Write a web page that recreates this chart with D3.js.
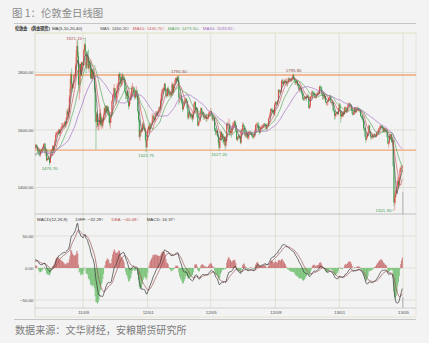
<!DOCTYPE html>
<html lang="zh-CN">
<head>
<meta charset="UTF-8">
<title>伦敦金日线图</title>
<style>
  body { margin: 0; background: #f3f3f3; }
  svg#kline { display: block; }
  .tiny { font-family: "Liberation Sans", "DejaVu Sans", sans-serif; font-size: 4.4px; }
  .cap { font-family: "Noto Sans CJK SC", sans-serif; }
</style>
</head>
<body>
<svg id="kline"></svg>
<script src="https://cdnjs.cloudflare.com/ajax/libs/d3/7.8.5/d3.min.js"></script>
<script>
// trading days per month, Apr 2011 .. Apr 2013
var monthDays = [21,21,22,21,23,22,21,22,20,21,21,22,19,21,20,22,22,20,23,22,19,22,20,20,22];
// grid lines / date labels sit on the first day of these months (0 = Apr 2011)
var tickMonths = [5, 9, 13, 17, 21, 25];
var tickLabels = ["11/09", "12/01", "12/05", "12/09", "13/01", "13/05"];
var priceTicks = [1400, 1600, 1800];
var macdTicks = [-50, 0, 50];
var srLevels = [1791, 1530];          // resistance / support lines
var markHighs = [1921.15, 1790.30, 1795.80];
var markLows = [1476.70, 1522.75, 1527.20, 1321.35];
var maPeriods = [5, 10, 20, 40];

// daily close (spot gold, open = previous close)
var closeP = [
  1431,1437,1449,1457,1474,1466,1454,1460,1474,1486,1492,1497,1504,1501,1505,1508,1506,1517,1535,1557,1556,
  1546,1543,1516,1474,1492,1503,1516,1501,1500,1491,1494,1481,1492,1496,1509,1526,1525,1521,1535,1536,1537,
  1541,1533,1542,1544,1548,1541,1528,1530,1516,1513,1526,1529,1531,1541,1550,1552,1520,1522,1495,1500,1504,1500,
  1486,1513,1530,1528,1543,1531,1547,1562,1583,1588,1590,1594,1601,1588,1599,1608,1613,1616,1617,1615,1628,
  1622,1642,1665,1653,1662,1713,1743,1793,1760,1745,1762,1790,1792,1823,1852,1892,1857,1757,1758,1829,1790,1835,1826,
  1828,1877,1897,1873,1816,1860,1856,1815,1837,1825,1780,1812,1778,1803,1784,1741,1660,1628,1654,1616,1617,1622,
  1658,1620,1642,1615,1630,1652,1675,1662,1683,1666,1680,1656,1654,1624,1642,1651,1700,1722,1727,1745,1715,
  1712,1736,1754,1754,1794,1784,1761,1760,1788,1778,1783,1776,1735,1726,1719,1734,1699,1683,1702,1719,1717,1746,
  1746,1747,1722,1713,1731,1736,1714,1665,1635,1576,1599,1594,1598,1620,1619,1606,1597,1566,1540,1565,
  1600,1612,1603,1618,1617,1620,1633,1647,1640,1636,1654,1660,1652,1661,1667,1678,1676,1702,1726,1739,1740,
  1745,1760,1740,1722,1718,1745,1741,1722,1725,1727,1720,1758,1730,1755,1758,1772,1780,1772,1785,1769,1712,
  1712,1712,1710,1693,1672,1682,1700,1698,1708,1702,1676,1643,1660,1656,1650,1646,1651,1640,1661,1690,1697,1669,
  1677,1647,1615,1628,1630,1659,1676,1661,1661,1650,1641,1643,1648,1638,1642,1642,1656,1660,1663,
  1665,1655,1637,1642,1640,1603,1594,1591,1597,1578,1557,1538,1569,1593,1576,1586,1568,1559,1576,1546,1562,
  1622,1615,1617,1619,1589,1597,1590,1610,1617,1621,1630,1618,1598,1567,1574,1573,1580,1576,1556,1598,
  1598,1618,1614,1608,1581,1581,1590,1572,1575,1592,1592,1590,1591,1580,1578,1575,1580,1597,1617,1619,1620,1615,
  1599,1591,1606,1609,1611,1611,1616,1621,1619,1618,1604,1616,1615,1640,1645,1656,1673,1669,1663,1669,1655,1688,
  1697,1694,1691,1702,1739,1734,1733,1736,1770,1772,1760,1767,1770,1771,1761,1767,1765,1778,1773,1776,
  1775,1777,1780,1790,1781,1776,1763,1764,1769,1755,1758,1739,1745,1746,1731,1725,1708,1707,1712,1711,1716,1712,1719,
  1716,1677,1684,1715,1715,1733,1730,1727,1725,1712,1714,1722,1728,1726,1730,1750,1749,1740,1726,1718,1724,1712,
  1718,1697,1694,1698,1701,1711,1714,1717,1695,1696,1697,1669,1667,1649,1657,1659,1662,1656,1675,
  1688,1665,1648,1656,1647,1662,1656,1677,1678,1662,1669,1681,1688,1692,1685,1686,1670,1658,1653,1660,1678,1663,
  1667,1673,1677,1672,1672,1667,1649,1648,1643,1635,1607,1605,1577,1566,1573,1587,1593,1615,1595,1578,
  1573,1581,1576,1578,1583,1579,1577,1590,1594,1592,1605,1606,1615,1613,1610,1606,1594,1604,1595,1598,
  1597,1575,1553,1558,1580,1573,1585,1558,1563,1477,1348,1368,1377,1392,1405,1423,1409,1432,1462,1468,1467,1472
];
var highP = [
  1434,1442,1452,1462,1475,1476,1467,1463,1476,1489,1494,1501,1507,1508,1507,1512,1512,1520,1537,1559,1569,
  1577,1556,1545,1520,1496,1509,1519,1518,1508,1503,1498,1500,1496,1500,1512,1528,1529,1530,1537,1538,1542,
  1549,1545,1544,1550,1552,1550,1545,1533,1531,1521,1530,1535,1535,1543,1552,1556,1555,1529,1525,1504,1508,1512,
  1500,1515,1533,1532,1546,1546,1549,1565,1592,1594,1596,1597,1604,1603,1601,1610,1624,1623,1625,1623,1632,
  1632,1645,1674,1673,1682,1720,1778,1800,1814,1760,1765,1793,1797,1828,1877,1911,1913,1870,1786,1834,1830,1837,1836,
  1838,1882,1901,1921.15,1874,1866,1874,1880,1840,1845,1826,1815,1812,1808,1815,1790,1743,1663,1665,1660,1638,1633,
  1672,1662,1643,1645,1638,1660,1679,1686,1687,1684,1686,1684,1663,1657,1645,1658,1704,1724,1747,1760,1746,
  1729,1738,1763,1762,1796,1802,1798,1781,1797,1797,1793,1788,1780,1739,1733,1739,1736,1705,1705,1726,1720,1753,
  1764,1753,1750,1730,1741,1753,1741,1721,1668,1640,1604,1603,1608,1626,1629,1625,1610,1599,1574,1573,
  1606,1615,1625,1624,1625,1624,1658,1652,1656,1645,1657,1666,1665,1667,1670,1681,1683,1709,1730,1743,1747,
  1749,1764,1764,1744,1728,1748,1752,1742,1727,1731,1729,1765,1764,1760,1762,1777,1783,1781,1788,1787,1790.30,
  1727,1724,1722,1710,1696,1690,1705,1706,1714,1710,1703,1678,1665,1667,1661,1655,1660,1655,1664,1695,1700,1699,
  1679,1677,1649,1629,1634,1662,1679,1677,1670,1666,1652,1652,1653,1651,1646,1650,1661,1666,1665,
  1676,1667,1657,1649,1645,1643,1608,1606,1600,1598,1581,1561,1573,1598,1596,1591,1588,1575,1577,1580,1565,
  1626,1627,1623,1640,1623,1603,1601,1614,1628,1625,1633,1634,1626,1602,1578,1578,1586,1585,1580,1604,
  1605,1627,1624,1619,1612,1590,1595,1594,1580,1596,1597,1598,1595,1594,1584,1583,1586,1601,1621,1623,1628,1625,
  1626,1612,1610,1615,1617,1618,1620,1624,1625,1623,1622,1619,1624,1641,1652,1664,1675,1675,1677,1672,1670,1693,
  1699,1700,1697,1703,1742,1741,1738,1739,1773,1777,1776,1769,1775,1779,1773,1780,1768,1781,1785,1781,
  1780,1784,1783,1793,1795.80,1785,1779,1770,1773,1774,1761,1759,1750,1753,1750,1735,1728,1714,1718,1716,1718,1720,1723,
  1727,1721,1688,1718,1720,1737,1737,1733,1734,1729,1720,1728,1733,1734,1737,1754,1755,1754,1750,1731,1729,1726,
  1723,1720,1702,1700,1706,1714,1718,1722,1718,1698,1700,1697,1672,1668,1660,1662,1665,1664,1677,
  1694,1693,1668,1662,1660,1666,1668,1681,1682,1680,1674,1689,1695,1696,1694,1690,1690,1674,1664,1665,1680,1680,
  1679,1680,1682,1678,1676,1675,1668,1653,1650,1648,1638,1610,1606,1582,1582,1593,1597,1619,1617,1597,
  1581,1585,1583,1583,1587,1588,1581,1595,1597,1598,1608,1612,1617,1617,1615,1614,1611,1609,1607,1603,
  1606,1600,1578,1562,1585,1585,1587,1590,1566,1565,1482,1386,1392,1400,1424,1437,1427,1436,1469,1476,1477,1478
];
var lowP = [
  1420,1426,1434,1446,1457,1459,1450,1452,1458,1471,1482,1490,1493,1495,1498,1502,1500,1504,1515,1533,1540,
  1538,1530,1510,1462,1470,1488,1500,1498,1492,1488,1484,1476,1478,1488,1492,1505,1518,1517,1518,1525,1525,
  1530,1527,1528,1536,1538,1534,1524,1519,1510,1508,1507,1518,1522,1526,1536,1538,1516,1509,1490,1492,1496,1495,
  1476.70,1485,1510,1519,1526,1525,1528,1544,1560,1575,1581,1585,1586,1580,1585,1594,1602,1606,1605,1608,1610,
  1608,1620,1638,1645,1640,1660,1701,1733,1737,1731,1744,1754,1778,1788,1812,1847,1830,1744,1705,1728,1785,1786,1818,
  1806,1824,1862,1860,1796,1812,1832,1810,1800,1812,1777,1775,1766,1776,1777,1730,1626,1532.70,1605,1610,1598,1600,
  1617,1612,1604,1610,1605,1624,1646,1655,1658,1656,1660,1650,1626,1613,1604,1626,1650,1692,1707,1715,1700,
  1688,1693,1725,1740,1748,1774,1750,1752,1755,1768,1776,1767,1730,1708,1706,1708,1693,1671,1678,1690,1708,1713,
  1735,1732,1717,1705,1708,1716,1707,1660,1627,1571,1562,1579,1589,1592,1609,1601,1594,1561,1522.75,1538,
  1562,1594,1598,1596,1603,1606,1618,1625,1630,1626,1628,1649,1646,1648,1656,1659,1665,1671,1698,1715,1727,
  1727,1736,1733,1714,1711,1716,1731,1715,1718,1715,1712,1720,1722,1727,1745,1757,1765,1765,1769,1761,1688,
  1694,1702,1696,1688,1662,1668,1680,1692,1696,1697,1674,1635,1638,1647,1641,1637,1636,1627,1635,1660,1684,1657,
  1666,1643,1612,1613,1619,1627,1656,1654,1652,1645,1635,1637,1639,1627,1631,1637,1637,1652,1650,
  1660,1651,1632,1630,1632,1597,1582,1582,1581,1574,1548,1527.20,1535,1565,1561,1565,1555,1550,1545,1532,1540,
  1556,1604,1605,1613,1582,1583,1573,1584,1608,1612,1613,1610,1592,1563,1560,1564,1570,1568,1550,1552,
  1587,1595,1611,1603,1576,1573,1575,1570,1565,1568,1586,1584,1583,1576,1570,1570,1572,1576,1594,1606,1611,1611,
  1594,1584,1589,1598,1602,1604,1608,1613,1611,1610,1598,1599,1610,1612,1637,1643,1650,1662,1658,1656,1650,1650,
  1684,1686,1682,1688,1700,1726,1726,1728,1730,1759,1754,1755,1757,1764,1756,1752,1751,1760,1767,1767,
  1766,1768,1770,1774,1773,1771,1757,1756,1760,1753,1745,1737,1731,1737,1729,1720,1704,1701,1701,1703,1707,1700,1710,
  1712,1674,1672,1676,1709,1713,1723,1720,1719,1710,1709,1710,1719,1721,1722,1727,1744,1738,1718,1705,1707,1706,
  1704,1694,1687,1685,1684,1697,1705,1708,1692,1688,1685,1664,1660,1635,1640,1647,1654,1650,1653,
  1672,1661,1625,1640,1645,1645,1651,1654,1671,1658,1659,1664,1679,1684,1679,1680,1666,1654,1650,1652,1653,1657,
  1658,1661,1668,1666,1664,1660,1646,1640,1637,1628,1599,1595,1576,1555,1564,1572,1581,1592,1593,1575,
  1565,1571,1570,1570,1574,1575,1572,1575,1586,1588,1589,1601,1602,1607,1605,1604,1590,1593,1593,1592,
  1594,1574,1550,1539,1550,1566,1568,1556,1545,1472,1335,1321.35,1345,1366,1384,1403,1393,1401,1430,1453,1456,1455
];

var n = closeP.length;
console.assert(n === d3.sum(monthDays) && highP.length === n && lowP.length === n, "length mismatch");
var openP = closeP.map(function(c, i) { return i === 0 ? c : closeP[i - 1]; });
var monthStart = [0];
monthDays.forEach(function(d, m) { monthStart.push(monthStart[m] + d); });
var tickIdx = tickMonths.map(function(m) { return monthStart[m]; });

var width = 429, height = 343;
var plotL = 35, plotR = 416, mainT = 33, mainB = 214, macdB = 308;
var upCol = "#d9453e", dnCol = "#2f9a43";

var svg = d3.select("#kline").attr("width", width).attr("height", height);

var x = d3.scaleLinear().domain([44.8, 546]).range([plotL, plotR]);
var y = d3.scaleLinear().domain([1308, 1937]).range([mainB, mainT]);
var ym = d3.scaleLinear().domain([-62.5, 84.4]).range([macdB, mainB]);

var defs = svg.append("defs");
defs.append("clipPath").attr("id", "clipMain").append("rect")
    .attr("x", plotL).attr("y", mainT).attr("width", plotR - plotL).attr("height", mainB - mainT);
defs.append("clipPath").attr("id", "clipMacd").append("rect")
    .attr("x", plotL).attr("y", mainB + 7).attr("width", plotR - plotL).attr("height", macdB - mainB - 7);

// title & source
svg.append("text").attr("class", "cap").attr("x", 12).attr("y", 16.5)
    .attr("font-size", 10.4).attr("fill", "#8a8a8a").text("图 1：伦敦金日线图");
svg.append("line").attr("x1", 14).attr("x2", plotR).attr("y1", 23.5).attr("y2", 23.5)
    .attr("stroke", "#c6c6c6").attr("stroke-width", 1.2);
svg.append("line").attr("x1", 14).attr("x2", plotR).attr("y1", 319.5).attr("y2", 319.5)
    .attr("stroke", "#c6c6c6").attr("stroke-width", 1.2);
svg.append("text").attr("class", "cap").attr("x", 15).attr("y", 333.5)
    .attr("font-size", 10.1).attr("fill", "#7c7c7c").text("数据来源：文华财经，安粮期货研究所");

// frame and grid
var grid = svg.append("g");
grid.selectAll("line.hp").data(priceTicks).enter().append("line")
    .attr("x1", plotL).attr("x2", plotR).attr("y1", function(d) { return y(d); }).attr("y2", function(d) { return y(d); })
    .attr("stroke", "#d6d6cc").attr("stroke-width", 0.7);
grid.selectAll("line.hm").data(macdTicks).enter().append("line")
    .attr("x1", plotL).attr("x2", plotR).attr("y1", function(d) { return ym(d); }).attr("y2", function(d) { return ym(d); })
    .attr("stroke", "#d6d6cc").attr("stroke-width", 0.7);
grid.selectAll("line.v").data(tickIdx).enter().append("line")
    .attr("x1", function(d) { return x(d); }).attr("x2", function(d) { return x(d); })
    .attr("y1", mainT).attr("y2", macdB)
    .attr("stroke", "#dcdccb").attr("stroke-width", 0.8);
grid.append("line").attr("x1", plotL).attr("x2", plotR).attr("y1", mainT).attr("y2", mainT)
    .attr("stroke", "#e0e0bf").attr("stroke-width", 1);
grid.append("line").attr("x1", plotL).attr("x2", plotL).attr("y1", mainT).attr("y2", 317)
    .attr("stroke", "#d4d4c4").attr("stroke-width", 0.8);
grid.append("line").attr("x1", plotR).attr("x2", plotR).attr("y1", mainT).attr("y2", 317)
    .attr("stroke", "#e2e2d2").attr("stroke-width", 0.8);
grid.append("line").attr("x1", plotL).attr("x2", plotR).attr("y1", mainB).attr("y2", mainB)
    .attr("stroke", "#b9b9b9").attr("stroke-width", 0.9);
grid.append("line").attr("x1", plotL).attr("x2", plotR).attr("y1", macdB).attr("y2", macdB)
    .attr("stroke", "#c9c9c9").attr("stroke-width", 0.8);
grid.append("line").attr("x1", plotL).attr("x2", plotR).attr("y1", 317).attr("y2", 317)
    .attr("stroke", "#dfdfc9").attr("stroke-width", 0.8);

// axes (labels only)
var fmt = d3.format(".2f");
var ay = svg.append("g").attr("class", "tiny").attr("transform", "translate(" + (plotL - 0.5) + ",0)")
    .call(d3.axisLeft(y).tickValues(priceTicks).tickSize(0).tickPadding(1).tickFormat(fmt));
var aym = svg.append("g").attr("class", "tiny").attr("transform", "translate(" + (plotL - 0.5) + ",0)")
    .call(d3.axisLeft(ym).tickValues(macdTicks).tickSize(0).tickPadding(1).tickFormat(fmt));
var ax = svg.append("g").attr("class", "tiny").attr("transform", "translate(0," + (macdB + 2) + ")")
    .call(d3.axisBottom(x).tickValues(tickIdx).tickSize(0).tickPadding(1)
      .tickFormat(function(d, i) { return tickLabels[i]; }));
[ay, aym, ax].forEach(function(a) {
  a.select(".domain").remove();
  a.selectAll("text").attr("fill", "#4a4a4a").style("font-size", "4.4px");
});

// support / resistance
svg.selectAll("line.sr").data(srLevels).enter().append("line")
    .attr("x1", plotL).attr("x2", plotR).attr("y1", function(d) { return y(d); }).attr("y2", function(d) { return y(d); })
    .attr("stroke", "#f0a676").attr("stroke-width", 1.4);

// candles
var gK = svg.append("g").attr("clip-path", "url(#clipMain)");
var bars = d3.range(n);
var bw = 0.9;
function candleCol(i) { return closeP[i] >= openP[i] ? upCol : dnCol; }
gK.selectAll("line.wick").data(bars).enter().append("line")
    .attr("x1", function(i) { return x(i); }).attr("x2", function(i) { return x(i); })
    .attr("y1", function(i) { return y(highP[i]); }).attr("y2", function(i) { return y(lowP[i]); })
    .attr("stroke", candleCol).attr("stroke-width", 0.45);
gK.selectAll("rect.body").data(bars).enter().append("rect")
    .attr("x", function(i) { return x(i) - bw / 2; }).attr("width", bw)
    .attr("y", function(i) { return y(Math.max(openP[i], closeP[i])); })
    .attr("height", function(i) { return Math.max(0.4, Math.abs(y(openP[i]) - y(closeP[i]))); })
    .attr("fill", candleCol);

// moving averages
var maColors = ["#555555", "#cf5b5b", "#5da75d", "#a46cc0"];
var maVals = maPeriods.map(function(p) {
  return closeP.map(function(c, i) { return i < p - 1 ? null : d3.mean(closeP.slice(i - p + 1, i + 1)); });
});
var maLine = d3.line().defined(function(d) { return d !== null; })
    .x(function(d, i) { return x(i); }).y(function(d) { return y(d); });
maVals.forEach(function(v, k) {
  gK.append("path").attr("d", maLine(v)).attr("fill", "none")
    .attr("stroke", maColors[k]).attr("stroke-width", 0.7);
});

// high / low markers
var gM = svg.append("g").attr("class", "tiny");
markHighs.forEach(function(v) {
  var i = highP.indexOf(v), px = x(i), py = y(v);
  if (py - 3 < mainT + 4) {
    gM.append("line").attr("x1", px - 3).attr("x2", px - 0.8).attr("y1", py + 1).attr("y2", py + 1)
      .attr("stroke", "#b25353").attr("stroke-width", 0.4);
    gM.append("text").attr("x", px - 3.3).attr("y", py + 2.5).attr("text-anchor", "end")
      .attr("fill", "#b25353").text(fmt(v));
  } else {
    gM.append("text").attr("x", px).attr("y", py - 2).attr("text-anchor", "middle")
      .attr("fill", "#8a4d4d").text(fmt(v));
  }
});
markLows.forEach(function(v) {
  var i = lowP.indexOf(v), px = x(i), py = y(v);
  if (py + 6 > mainB) {
    gM.append("line").attr("x1", px - 3).attr("x2", px - 0.8).attr("y1", py).attr("y2", py)
      .attr("stroke", "#3f9a4f").attr("stroke-width", 0.4);
    gM.append("text").attr("x", px - 3.3).attr("y", py + 1.5).attr("text-anchor", "end")
      .attr("fill", "#3f9a4f").text(fmt(v));
  } else {
    gM.append("text").attr("x", px).attr("y", py + 5).attr("text-anchor", "middle")
      .attr("fill", "#3f9a4f").text(fmt(v));
  }
});

// MACD(12,26,9)
function ema(arr, p) {
  var a = 2 / (p + 1), out = [];
  arr.forEach(function(v, i) { out.push(i === 0 ? v : out[i - 1] + a * (v - out[i - 1])); });
  return out;
}
var e12 = ema(closeP, 12), e26 = ema(closeP, 26);
var diff = e12.map(function(v, i) { return v - e26[i]; });
var dea = ema(diff, 9);
var macd = diff.map(function(v, i) { return 2 * (v - dea[i]); });

var gD = svg.append("g").attr("clip-path", "url(#clipMacd)");
gD.selectAll("line.hist").data(bars).enter().append("line")
    .attr("x1", function(i) { return x(i); }).attr("x2", function(i) { return x(i); })
    .attr("y1", ym(0)).attr("y2", function(i) { return ym(macd[i]); })
    .attr("stroke", function(i) { return macd[i] >= 0 ? "#c97070" : "#72bf72"; })
    .attr("stroke-width", 0.9);
var mLine = d3.line().x(function(d, i) { return x(i); }).y(function(d) { return ym(d); });
gD.append("path").attr("d", mLine(dea)).attr("fill", "none").attr("stroke", "#9b5252").attr("stroke-width", 0.7);
gD.append("path").attr("d", mLine(diff)).attr("fill", "none").attr("stroke", "#333333").attr("stroke-width", 0.7);

// last-bar marker
var last = n - 1;
svg.append("line").attr("x1", x(last) + 0.5).attr("x2", x(last) + 0.5).attr("y1", mainB - 22).attr("y2", mainB)
    .attr("stroke", "#9a9aaa").attr("stroke-width", 0.7);
svg.append("line").attr("x1", x(last) + 0.5).attr("x2", x(last) + 0.5).attr("y1", macdB - 11).attr("y2", macdB)
    .attr("stroke", "#9a9aaa").attr("stroke-width", 0.7);

// legends
function arrow(arr) { return arr[last] >= arr[last - 1] ? "↑" : "↓"; }
function legendRow(yy, x0, items) {
  var cx = x0;
  items.forEach(function(it) {
    var t = svg.append("text").attr("class", "tiny").attr("x", cx).attr("y", yy)
      .attr("fill", it.c).attr("font-weight", it.b ? "bold" : null).text(it.t);
    cx += t.node().getComputedTextLength() + (it.g || 3);
  });
}
var mainItems = [
  { t: "伦敦金", c: "#333", b: true, g: 4 },
  { t: "(黄金现货)", c: "#333", b: true, g: 2 },
  { t: "MA(5,10,20,40)", c: "#333", g: 18 }
];
maPeriods.forEach(function(p, k) {
  mainItems.push({ t: "MA" + p + ": " + fmt(maVals[k][last]) + arrow(maVals[k]), c: maColors[k], g: 3 });
});
legendRow(29.8, 15, mainItems);
legendRow(220.5, 37, [
  { t: "MACD(12,26,9)", c: "#333", g: 8 },
  { t: "DIFF: " + fmt(diff[last]) + arrow(diff), c: "#333", g: 8 },
  { t: "DEA: " + fmt(dea[last]) + arrow(dea), c: "#c0504d", g: 8 },
  { t: "MACD: " + fmt(macd[last]) + arrow(macd), c: "#333", g: 3 }
]);
</script>
</body>
</html>
